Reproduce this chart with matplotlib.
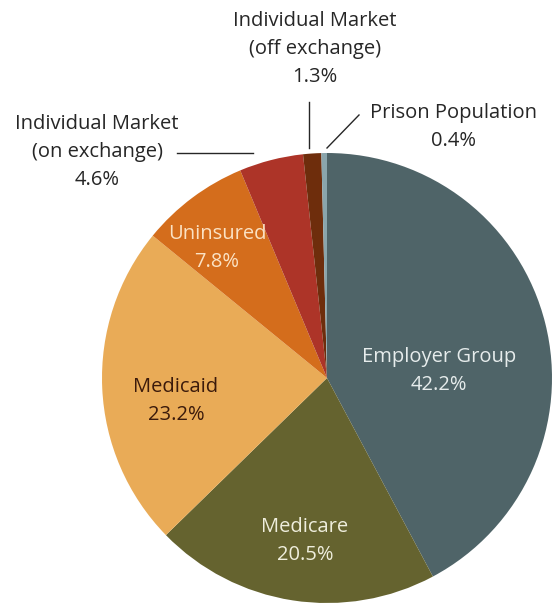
import matplotlib

matplotlib.use("Agg")
import matplotlib.pyplot as plt  # noqa: E402

plt.rcParams["font.family"] = ["Open Sans", "DejaVu Sans"]

# data, clockwise from 12 o'clock
categories = ["Employer Group", "Medicare", "Medicaid", "Uninsured",
              "Individual Market\n(on exchange)", "Individual Market\n(off exchange)",
              "Prison Population"]
shares = [42.2, 20.5, 23.2, 7.8, 4.6, 1.3, 0.4]
colors = ["#4f6468", "#65632f", "#e9ab57", "#d46d1c", "#ad3428", "#6e2d0c", "#8aa5ac"]

W, H = 553, 609
fig = plt.figure(figsize=(W / 100, H / 100), dpi=100)
ax = fig.add_axes([0, 0, 1, 1])

cx, cy, r = 327, H - 378, 225
ax.pie(shares, colors=colors, startangle=90, counterclock=False,
       center=(cx, cy), radius=r, wedgeprops=dict(linewidth=0))
ax.set_xlim(0, W)
ax.set_ylim(0, H)
ax.set_aspect("equal")
ax.axis("off")


def lab(x, y, name, val, color, ls=1.55):
    # y given in pixels from the top
    ax.text(x, H - y, f"{name}\n{val:.1f}%", ha="center", va="center",
            color=color, fontsize=14.5, linespacing=ls)


# labels inside the pie
lab(439, 371, categories[0], shares[0], "#e6ecec")
lab(305, 541, categories[1], shares[1], "#efeedd")
lab(176, 401, categories[2], shares[2], "#3b1a0b")
lab(217, 248, categories[3], shares[3], "#fbe2c4")

# labels outside with leader lines
dark = "#262626"
lab(97, 152, categories[4], shares[4], dark)
lab(315, 49, categories[5], shares[5], dark)
lab(453, 127, categories[6], shares[6], dark)

ax.plot([177, 253], [H - 153, H - 153], color=dark, lw=1)
ax.plot([309, 309], [H - 102, H - 148], color=dark, lw=1)
ax.plot([327, 359], [H - 148, H - 115], color=dark, lw=1)

fig.savefig("out.png", dpi=100, facecolor="white")
